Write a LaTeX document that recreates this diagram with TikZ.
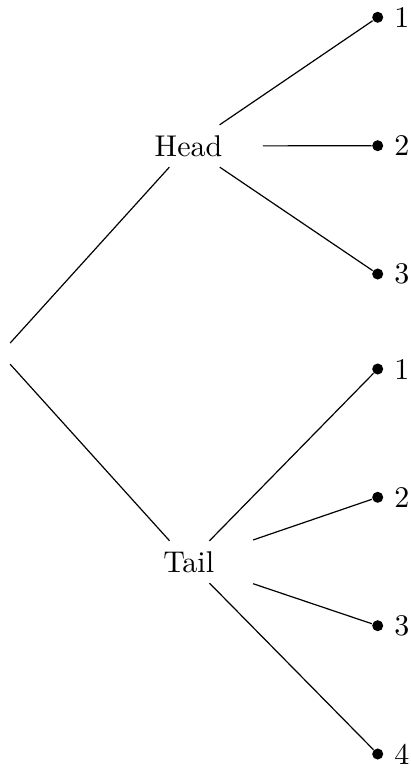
\documentclass[tikz,border=0pt]{standalone}
\begin{document}
\begin{tikzpicture}[x=0.3333pt, y=-0.3333pt,
  branch/.style={inner sep=3.33pt},
  leafdot/.style={circle, fill=black, inner sep=1.3pt},
  edgeline/.style={draw=black, line width=0.4pt},
  midedge/.style={edgeline, shorten <=10pt}]
\useasboundingbox (0,0) rectangle (411,769);

% root and the two outcomes of the coin
\node[branch] (root) at (0.6,353.6) {};
\node[branch] (head) at (188.5,146) {Head};
\node[branch] (tail) at (188.7,562) {Tail};

% leaves after Head
\node[leafdot, label=right:1] (h1) at (377.7,17.3) {};
\node[leafdot, label=right:2] (h2) at (377.7,145.7) {};
\node[leafdot, label=right:3] (h3) at (377.7,274) {};

% leaves after Tail
\node[leafdot, label=right:1] (t1) at (377.7,369) {};
\node[leafdot, label=right:2] (t2) at (377.7,497.3) {};
\node[leafdot, label=right:3] (t3) at (377.7,625.7) {};
\node[leafdot, label=right:4] (t4) at (377.7,754) {};

% branches
\draw[edgeline] (root) -- (head);
\draw[edgeline] (root) -- (tail);
\draw[edgeline] (head) -- (h1);
\draw[midedge] (head) -- (h2);
\draw[edgeline] (head) -- (h3);
\draw[edgeline] (tail) -- (t1);
\draw[midedge] (tail) -- (t2);
\draw[midedge] (tail) -- (t3);
\draw[edgeline] (tail) -- (t4);
\end{tikzpicture}
\end{document}
